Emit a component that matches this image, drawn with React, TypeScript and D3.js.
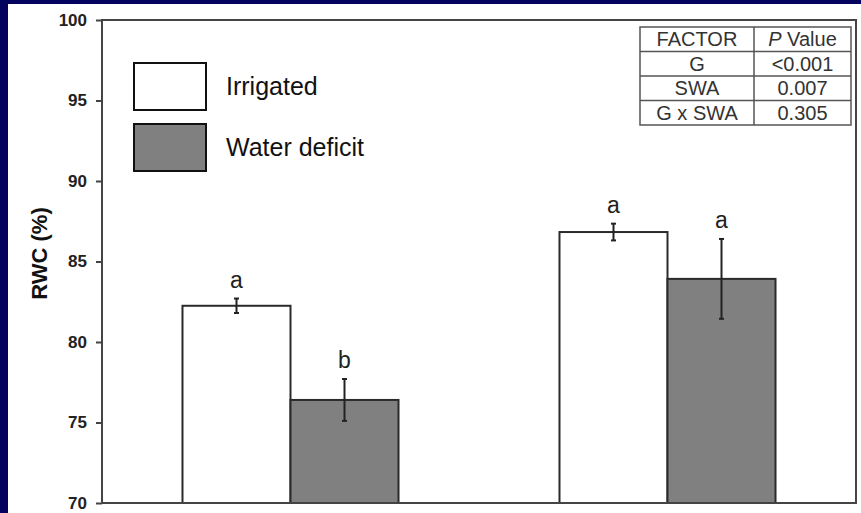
import React, { useEffect, useRef } from "react";
import * as d3 from "d3";

// Relative water content by group and watering treatment
const groups = ["G1", "G2"];
const series = ["Irrigated", "Water deficit"];
const irrigatedMean = [82.25, 86.83];
const irrigatedErr = [0.45, 0.52];
const deficitMean = [76.4, 83.92];
const deficitErr = [1.3, 2.48];
const irrigatedLetters = ["a", "a"];
const deficitLetters = ["b", "a"];
const yTicks = [70, 75, 80, 85, 90, 95, 100];

// ANOVA summary
const factorNames = ["G", "SWA", "G x SWA"];
const pValues = ["<0.001", "0.007", "0.305"];

const W = 861;
const H = 513;

export default function App() {
  const ref = useRef<SVGSVGElement>(null);

  useEffect(() => {
    const svg = d3.select(ref.current);
    svg.selectAll("*").remove();

    const left = 102, right = 856, top = 20, bottom = 503;
    const font = "'Liberation Sans', Arial, sans-serif";

    // frame background
    svg.append("rect").attr("width", W).attr("height", H).attr("fill", "#03035f");
    svg.append("rect").attr("x", 8).attr("y", 4).attr("width", W - 8).attr("height", H - 4).attr("fill", "#ffffff");

    const y = d3.scaleLinear().domain([70, 100]).range([bottom, top]);
    const x0 = d3.scaleBand().domain(groups).range([left, right]).paddingInner(0.427).paddingOuter(0.2135);
    const x1 = d3.scaleBand().domain(series).range([0, x0.bandwidth()]).padding(0);

    const rows = groups.map((g, i) => [
      { g, s: series[0], v: irrigatedMean[i], e: irrigatedErr[i], l: irrigatedLetters[i], fill: "#ffffff" },
      { g, s: series[1], v: deficitMean[i], e: deficitErr[i], l: deficitLetters[i], fill: "#808080" },
    ]).flat();

    // bars
    svg.append("g").selectAll("rect").data(rows).join("rect")
      .attr("x", (d) => (x0(d.g) as number) + (x1(d.s) as number))
      .attr("y", (d) => y(d.v))
      .attr("width", x1.bandwidth())
      .attr("height", (d) => bottom - y(d.v))
      .attr("fill", (d) => d.fill)
      .attr("stroke", "#2a2a2a")
      .attr("stroke-width", 2);

    // error bars
    const eg = svg.append("g").attr("stroke", "#222").attr("stroke-width", 2);
    rows.forEach((d) => {
      const cx = (x0(d.g) as number) + (x1(d.s) as number) + x1.bandwidth() / 2;
      eg.append("line").attr("x1", cx).attr("x2", cx).attr("y1", y(d.v + d.e)).attr("y2", y(d.v - d.e));
      eg.append("line").attr("x1", cx - 2.5).attr("x2", cx + 2.5).attr("y1", y(d.v + d.e)).attr("y2", y(d.v + d.e));
      eg.append("line").attr("x1", cx - 2.5).attr("x2", cx + 2.5).attr("y1", y(d.v - d.e)).attr("y2", y(d.v - d.e));
      svg.append("text")
        .attr("x", cx)
        .attr("y", y(d.v + d.e) - 11)
        .attr("text-anchor", "middle")
        .attr("font-family", font)
        .attr("font-size", 23)
        .attr("fill", "#222")
        .text(d.l);
    });

    // plot frame
    svg.append("rect")
      .attr("x", left).attr("y", top)
      .attr("width", right - left).attr("height", bottom - top)
      .attr("fill", "none").attr("stroke", "#444").attr("stroke-width", 2);

    // y axis
    const ax = svg.append("g").attr("transform", `translate(${left},0)`)
      .call(d3.axisLeft(y).tickValues(yTicks).tickSize(6).tickSizeOuter(0).tickPadding(9).tickFormat(d3.format("d")));
    ax.select(".domain").remove();
    ax.selectAll("line").attr("stroke", "#444").attr("stroke-width", 2);
    ax.selectAll("text")
      .attr("font-family", font)
      .attr("font-size", 17)
      .attr("font-weight", "bold")
      .attr("fill", "#222");

    svg.append("text")
      .attr("transform", `translate(47,${(top + bottom) / 2 - 8}) rotate(-90)`)
      .attr("text-anchor", "middle")
      .attr("font-family", font)
      .attr("font-size", 22)
      .attr("font-weight", "bold")
      .attr("fill", "#111")
      .text("RWC (%)");

    // legend
    const legFills = ["#ffffff", "#808080"];
    const legY = [63, 124];
    series.forEach((s, i) => {
      svg.append("rect")
        .attr("x", 134).attr("y", legY[i]).attr("width", 72).attr("height", 47)
        .attr("fill", legFills[i]).attr("stroke", "#111").attr("stroke-width", 2);
      svg.append("text")
        .attr("x", 226).attr("y", legY[i] + 32)
        .attr("font-family", font).attr("font-size", 25).attr("fill", "#111")
        .text(s);
    });

    // ANOVA table
    const tx0 = 640, tx1 = 754, tx2 = 851, ty0 = 27, rh = 24.5;
    const tg = svg.append("g");
    const nRows = factorNames.length + 1;
    tg.append("rect")
      .attr("x", tx0).attr("y", ty0).attr("width", tx2 - tx0).attr("height", rh * nRows)
      .attr("fill", "#fff").attr("stroke", "#555").attr("stroke-width", 1.5);
    tg.append("line").attr("x1", tx1).attr("x2", tx1).attr("y1", ty0).attr("y2", ty0 + rh * nRows)
      .attr("stroke", "#555").attr("stroke-width", 1.5);
    for (let r = 1; r < nRows; r++) {
      tg.append("line").attr("x1", tx0).attr("x2", tx2).attr("y1", ty0 + rh * r).attr("y2", ty0 + rh * r)
        .attr("stroke", "#555").attr("stroke-width", 1.5);
    }
    const c1 = (tx0 + tx1) / 2, c2 = (tx1 + tx2) / 2;
    const cell = (cx: number, r: number) => tg.append("text")
      .attr("x", cx).attr("y", ty0 + rh * r + rh / 2 + 7)
      .attr("text-anchor", "middle").attr("font-family", font).attr("font-size", 20).attr("fill", "#333");
    cell(c1, 0).text("FACTOR");
    const ph = cell(c2, 0);
    ph.append("tspan").attr("font-style", "italic").text("P");
    ph.append("tspan").text(" Value");
    factorNames.forEach((f, i) => {
      cell(c1, i + 1).text(f);
      cell(c2, i + 1).text(pValues[i]);
    });
  }, []);

  return (
    <svg
      ref={ref}
      width={W}
      height={H}
      style={{ position: "fixed", left: 0, top: 0, display: "block" }}
    />
  );
}
